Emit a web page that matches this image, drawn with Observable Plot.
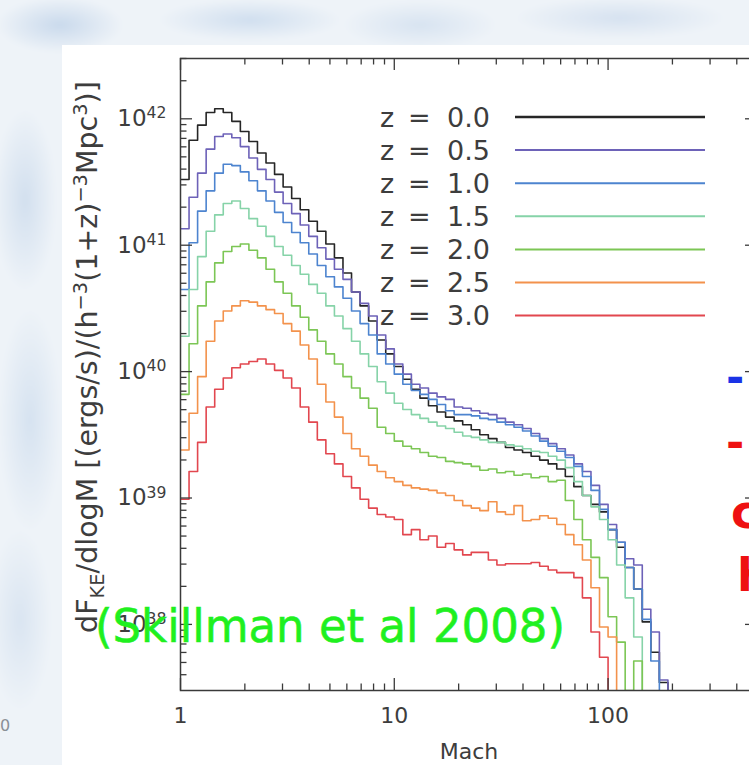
<!DOCTYPE html>
<html>
<head>
<meta charset="utf-8">
<script src="https://cdn.jsdelivr.net/npm/d3@7"></script>
<script src="https://cdn.jsdelivr.net/npm/@observablehq/plot@0.6"></script>
<style>
  html, body { margin: 0; padding: 0; }
  body { width: 749px; height: 765px; overflow: hidden; position: relative; background: #eaf0f7; font-family: "DejaVu Sans", sans-serif; }
  #sky { position: absolute; left: -20px; top: -20px; width: 800px; height: 820px; filter: blur(2px);
    background:
      radial-gradient(ellipse 90px 40px at 80px 45px, rgba(165,192,224,.5), rgba(165,192,224,0) 70%),
      radial-gradient(ellipse 130px 30px at 270px 40px, rgba(172,198,228,.45), rgba(172,198,228,0) 70%),
      radial-gradient(ellipse 110px 35px at 440px 45px, rgba(182,204,230,.4), rgba(182,204,230,0) 70%),
      radial-gradient(ellipse 150px 30px at 640px 38px, rgba(178,200,228,.4), rgba(178,200,228,0) 70%),
      radial-gradient(ellipse 45px 130px at 45px 220px, rgba(168,194,224,.4), rgba(168,194,224,0) 70%),
      radial-gradient(ellipse 45px 160px at 50px 440px, rgba(174,199,227,.38), rgba(174,199,227,0) 70%),
      radial-gradient(ellipse 45px 130px at 40px 640px, rgba(180,202,228,.35), rgba(180,202,228,0) 70%),
      #eef3f8; }
  #panel { position: absolute; left: 62px; top: 45px; width: 700px; height: 720px; background: #fff; }
  #chart { position: absolute; left: 62px; top: 45px; width: 700px; height: 720px; }
  #chart svg { max-width: none; }
  #notes { position: absolute; left: 0; top: 0; pointer-events: none; }
</style>
</head>
<body>
<div id="sky"></div>
<div id="panel"></div>
<div id="chart"></div>
<svg id="notes" width="749" height="765"></svg>
<script>
// Kinetic energy flux per log Mach bin, log10 values, one array per redshift.
// Bins are 0.04 dex wide in Mach, starting at Mach = 1; null marks an empty bin.
const redshifts = ["0.0", "0.5", "1.0", "1.5", "2.0", "2.5", "3.0"];
const seriesColors = ["#262626", "#6d62b8", "#4d84cf", "#86d3a8", "#7cc655", "#f3924c", "#e2474f"];
const binStepDex = 0.04;

const log10Flux_z00 = [
  41.52, 41.83, 41.95, 42.05, 42.08, 42.05, 41.98, 41.90, 41.82, 41.73,
  41.65, 41.56, 41.46, 41.37, 41.28, 41.19, 41.11, 41.01, 40.90, 40.78,
  40.63, 40.52, 40.40, 40.25, 40.14, 40.04, 39.94, 39.86, 39.79, 39.73,
  39.68, 39.64, 39.61, 39.58, 39.54, 39.50, 39.47, 39.44, 39.40, 39.38,
  39.36, 39.33, 39.30, 39.27, 39.23, 39.17, 39.09, 39.02, 38.95, 38.89,
  38.75, 38.61, 38.45, 38.28, 38.02, 37.78, 37.54
];
const log10Flux_z05 = [
  41.13, 41.38, 41.57, 41.76, 41.86, 41.88, 41.85, 41.78, 41.69, 41.60,
  41.52, 41.42, 41.33, 41.25, 41.16, 41.07, 40.98, 40.89, 40.81, 40.73,
  40.63, 40.54, 40.44, 40.29, 40.18, 40.06, 39.98, 39.90, 39.87, 39.83,
  39.80, 39.78, 39.72, 39.71, 39.69, 39.67, 39.66, 39.63, 39.60, 39.58,
  39.55, 39.51, 39.47, 39.43, 39.39, 39.34, 39.27, 39.21, 39.10, 38.95,
  38.79, 38.65, 38.52, 38.47, 38.12, 37.94, 37.56
];
const log10Flux_z10 = [
  40.65, 41.02, 41.27, 41.43, 41.57, 41.64, 41.63, 41.58, 41.51, 41.43,
  41.35, 41.26, 41.18, 41.10, 41.02, 40.93, 40.84, 40.75, 40.67, 40.58,
  40.48, 40.38, 40.29, 40.14, 40.06, 39.98, 39.90, 39.85, 39.82, 39.78,
  39.74, 39.69, 39.66, 39.66, 39.65, 39.63, 39.62, 39.60, 39.58, 39.56,
  39.53, 39.49, 39.45, 39.41, 39.37, 39.32, 39.25, 39.17, 39.06, 38.91,
  38.75, 38.65, 38.45, 38.28, 38.04, 37.71
];
const log10Flux_z15 = [
  40.28, 40.65, 40.91, 41.11, 41.24, 41.33, 41.35, 41.29, 41.21, 41.15,
  41.07, 40.99, 40.92, 40.84, 40.77, 40.69, 40.62, 40.52, 40.44, 40.34,
  40.24, 40.14, 40.04, 39.92, 39.83, 39.75, 39.70, 39.66, 39.63, 39.60,
  39.57, 39.55, 39.52, 39.49, 39.48, 39.46, 39.44, 39.44, 39.42, 39.41,
  39.39, 39.37, 39.36, 39.33, 39.30, 39.24, 39.13, 39.02, 38.93, 38.83,
  38.67, 38.47, 38.21, 37.90
];
const log10Flux_z20 = [
  39.82, 40.22, 40.52, 40.71, 40.86, 40.95, 40.99, 41.01, 40.96, 40.90,
  40.81, 40.71, 40.62, 40.52, 40.43, 40.33, 40.24, 40.14, 40.06, 39.96,
  39.87, 39.79, 39.71, 39.56, 39.51, 39.45, 39.41, 39.39, 39.36, 39.33,
  39.32, 39.29, 39.28, 39.27, 39.25, 39.22, 39.23, 39.20, 39.21, 39.18,
  39.19, 39.16, 39.17, 39.13, 39.14, 38.98, 38.83, 38.67, 38.53, 38.37,
  38.06, 37.86, null, 37.71
];
const log10Flux_z25 = [
  39.38, 39.67, 39.96, 40.24, 40.40, 40.48, 40.52, 40.56, 40.55, 40.52,
  40.49, 40.46, 40.38, 40.32, 40.21, 40.10, 39.90, 39.76, 39.64, 39.51,
  39.39, 39.33, 39.26, 39.21, 39.16, 39.13, 39.10, 39.08, 39.07, 39.06,
  39.04, 39.02, 38.98, 38.94, 38.92, 38.90, 38.97, 38.89, 38.87, 38.94,
  38.82, 38.83, 38.86, 38.84, 38.79, 38.71, 38.63, 38.51, 38.29, 37.98,
  37.90
];
const log10Flux_z30 = [
  38.99, 39.21, 39.44, 39.72, 39.86, 39.95, 40.03, 40.06, 40.08, 40.10,
  40.06, 40.01, 39.95, 39.87, 39.72, 39.60, 39.46, 39.35, 39.27, 39.17,
  39.08, 38.99, 38.92, 38.87, 38.85, 38.83, 38.71, 38.75, 38.67, 38.70,
  38.61, 38.64, 38.59, 38.55, 38.57, 38.57, 38.51, 38.47, 38.48, 38.48,
  38.48, 38.49, 38.46, 38.43, 38.41, 38.41, 38.37, 38.21, 37.94, 37.74
];

// Axis extents and tick values
const xDomain = [1, 500];
const yDomain = [3e37, 3e42];
const xMajorTicks = [1, 10, 100];
const xMinorTicks = [2, 3, 4, 5, 6, 7, 8, 9, 20, 30, 40, 50, 60, 70, 80, 90, 200, 300, 400];
const yMajorTicks = [1e38, 1e39, 1e40, 1e41, 1e42];
const yMinorTicks = [
  4e37, 5e37, 6e37, 7e37, 8e37, 9e37,
  2e38, 3e38, 4e38, 5e38, 6e38, 7e38, 8e38, 9e38,
  2e39, 3e39, 4e39, 5e39, 6e39, 7e39, 8e39, 9e39,
  2e40, 3e40, 4e40, 5e40, 6e40, 7e40, 8e40, 9e40,
  2e41, 3e41, 4e41, 5e41, 6e41, 7e41, 8e41, 9e41,
  2e42, 3e42
];

// Long table for Plot: one step line per redshift; each histogram closes
// with a drop to the floor of the y range.
const allSeries = [log10Flux_z00, log10Flux_z05, log10Flux_z10, log10Flux_z15, log10Flux_z20, log10Flux_z25, log10Flux_z30];
const floorFlux = yDomain[0];
const rows = [];
allSeries.forEach((vals, i) => {
  const z = redshifts[i];
  vals.forEach((L, k) => rows.push({ z, mach: 10 ** (binStepDex * k), flux: L == null ? floorFlux : 10 ** L }));
  const n = vals.length;
  const edge = 10 ** (binStepDex * n);
  rows.push({ z, mach: edge, flux: 10 ** vals[n - 1] });
  rows.push({ z, mach: edge, flux: floorFlux });
});

const W = 700, H = 720, mL = 118, mT = 13, mR = 5, mB = 75;
const plotW = W - mL - mR, plotH = H - mT - mB;
const axisColor = "#3a3a3a", textColor = "#3d3d3d";
const majorLen = 12, minorLen = 6.5;

const chart = Plot.plot({
  width: W, height: H,
  marginLeft: mL, marginTop: mT, marginRight: mR, marginBottom: mB,
  style: { background: "transparent", fontFamily: "DejaVu Sans, sans-serif", overflow: "visible", maxWidth: "none" },
  x: { type: "log", domain: xDomain, axis: null },
  y: { type: "log", domain: yDomain, axis: null },
  color: { domain: redshifts, range: seriesColors },
  marks: [
    Plot.line(rows, { x: "mach", y: "flux", z: "z", stroke: "z", curve: "step-after", strokeWidth: 1.6, clip: true }),
    // inward ticks on all four sides
    Plot.tickX(xMajorTicks, { x: d => d, insetTop: plotH - majorLen, stroke: axisColor, strokeWidth: 1.3 }),
    Plot.tickX(xMinorTicks, { x: d => d, insetTop: plotH - minorLen, stroke: axisColor, strokeWidth: 1.3 }),
    Plot.tickX(xMajorTicks, { x: d => d, insetBottom: plotH - majorLen, stroke: axisColor, strokeWidth: 1.3 }),
    Plot.tickX(xMinorTicks, { x: d => d, insetBottom: plotH - minorLen, stroke: axisColor, strokeWidth: 1.3 }),
    Plot.tickY(yMajorTicks, { y: d => d, insetRight: plotW - majorLen, stroke: axisColor, strokeWidth: 1.3 }),
    Plot.tickY(yMinorTicks, { y: d => d, insetRight: plotW - minorLen, stroke: axisColor, strokeWidth: 1.3 }),
    Plot.tickY(yMajorTicks, { y: d => d, insetLeft: plotW - majorLen, stroke: axisColor, strokeWidth: 1.3 }),
    Plot.tickY(yMinorTicks, { y: d => d, insetLeft: plotW - minorLen, stroke: axisColor, strokeWidth: 1.3 }),
    Plot.frame({ stroke: axisColor, strokeWidth: 1.5 }),
    // tick labels
    Plot.text(xMajorTicks, { x: d => d, frameAnchor: "bottom", dy: 25, lineAnchor: "middle", text: d => String(d), fontSize: 22, fill: textColor }),
    Plot.text(yMajorTicks, { y: d => d, frameAnchor: "left", dx: -14, textAnchor: "end", lineAnchor: "middle", text: d => "10^" + Math.round(Math.log10(d)), fontSize: 23, fill: textColor }),
    Plot.text(["Mach"], { frameAnchor: "bottom", dy: 61, lineAnchor: "middle", text: d => d, fontSize: 22, fill: textColor })
  ]
});
document.getElementById("chart").appendChild(chart);

const svg = d3.select(chart);

// power-of-ten labels: raise the exponent
svg.selectAll("text").each(function () {
  const m = /^10\^(\d+)$/.exec(this.textContent);
  if (m) {
    const t = d3.select(this);
    t.text("10");
    t.append("tspan").attr("dy", "-0.5em").attr("font-size", "0.68em").text(m[1]);
  }
});

// y-axis title with sub/superscripts
const title = svg.append("text")
  .attr("transform", "translate(35,312) rotate(-90)")
  .attr("text-anchor", "middle")
  .attr("font-size", 28.5)
  .attr("fill", textColor);
const parts = [
  ["dF", 0], ["KE", 1], ["/dlogM [(ergs/s)/(h", 0], ["\u22123", 2], ["(1+z)", 0], ["\u22123", 2], ["Mpc", 0], ["3", 2], [")]", 0]
];
let shift = 0;
parts.forEach(([s, kind]) => {
  const target = kind === 1 ? 7 : kind === 2 ? -10 : 0;
  title.append("tspan")
    .attr("dy", target - shift)
    .attr("font-size", kind ? "0.68em" : null)
    .text(s);
  shift = target;
});

// legend
const leg = svg.append("g").attr("font-size", 27).attr("fill", textColor).attr("text-anchor", "start");
redshifts.forEach((z, i) => {
  const cy = 72 + i * 33.1;
  const t = leg.append("text").attr("y", cy).attr("dy", "0.36em");
  t.append("tspan").attr("x", 318).text("z");
  t.append("tspan").attr("x", 346).text("=");
  t.append("tspan").attr("x", 385).text(z);
  leg.append("line")
    .attr("x1", 453).attr("x2", 643).attr("y1", cy).attr("y2", cy)
    .attr("stroke", seriesColors[i]).attr("stroke-width", i === 0 ? 2.6 : 2);
});

// slide annotations around the figure
const notes = d3.select("#notes");
notes.append("text")
  .attr("x", 95).attr("y", 642)
  .attr("font-family", "DejaVu Sans, sans-serif")
  .attr("font-size", 46)
  .attr("fill", "#1ff01f")
  .attr("stroke", "#1ff01f").attr("stroke-width", 0.6)
  .attr("textLength", 470).attr("lengthAdjust", "spacingAndGlyphs")
  .text("(Skillman et al 2008)");
notes.append("text").attr("x", 726).attr("y", 393).attr("font-size", 44).attr("font-weight", "bold").attr("fill", "#1a33e6").text("-");
notes.append("text").attr("x", 726).attr("y", 458).attr("font-size", 44).attr("font-weight", "bold").attr("fill", "#ee1111").text("-");
notes.append("text").attr("x", 731).attr("y", 528).attr("font-size", 46).attr("font-weight", "bold").attr("fill", "#ee1111").text("c");
notes.append("text").attr("x", 737).attr("y", 591).attr("font-size", 46).attr("font-weight", "bold").attr("fill", "#ee1111").text("h");
notes.append("text").attr("x", 0).attr("y", 731).attr("font-size", 16).attr("fill", "#8a8f96").text("0");
</script>
</body>
</html>
